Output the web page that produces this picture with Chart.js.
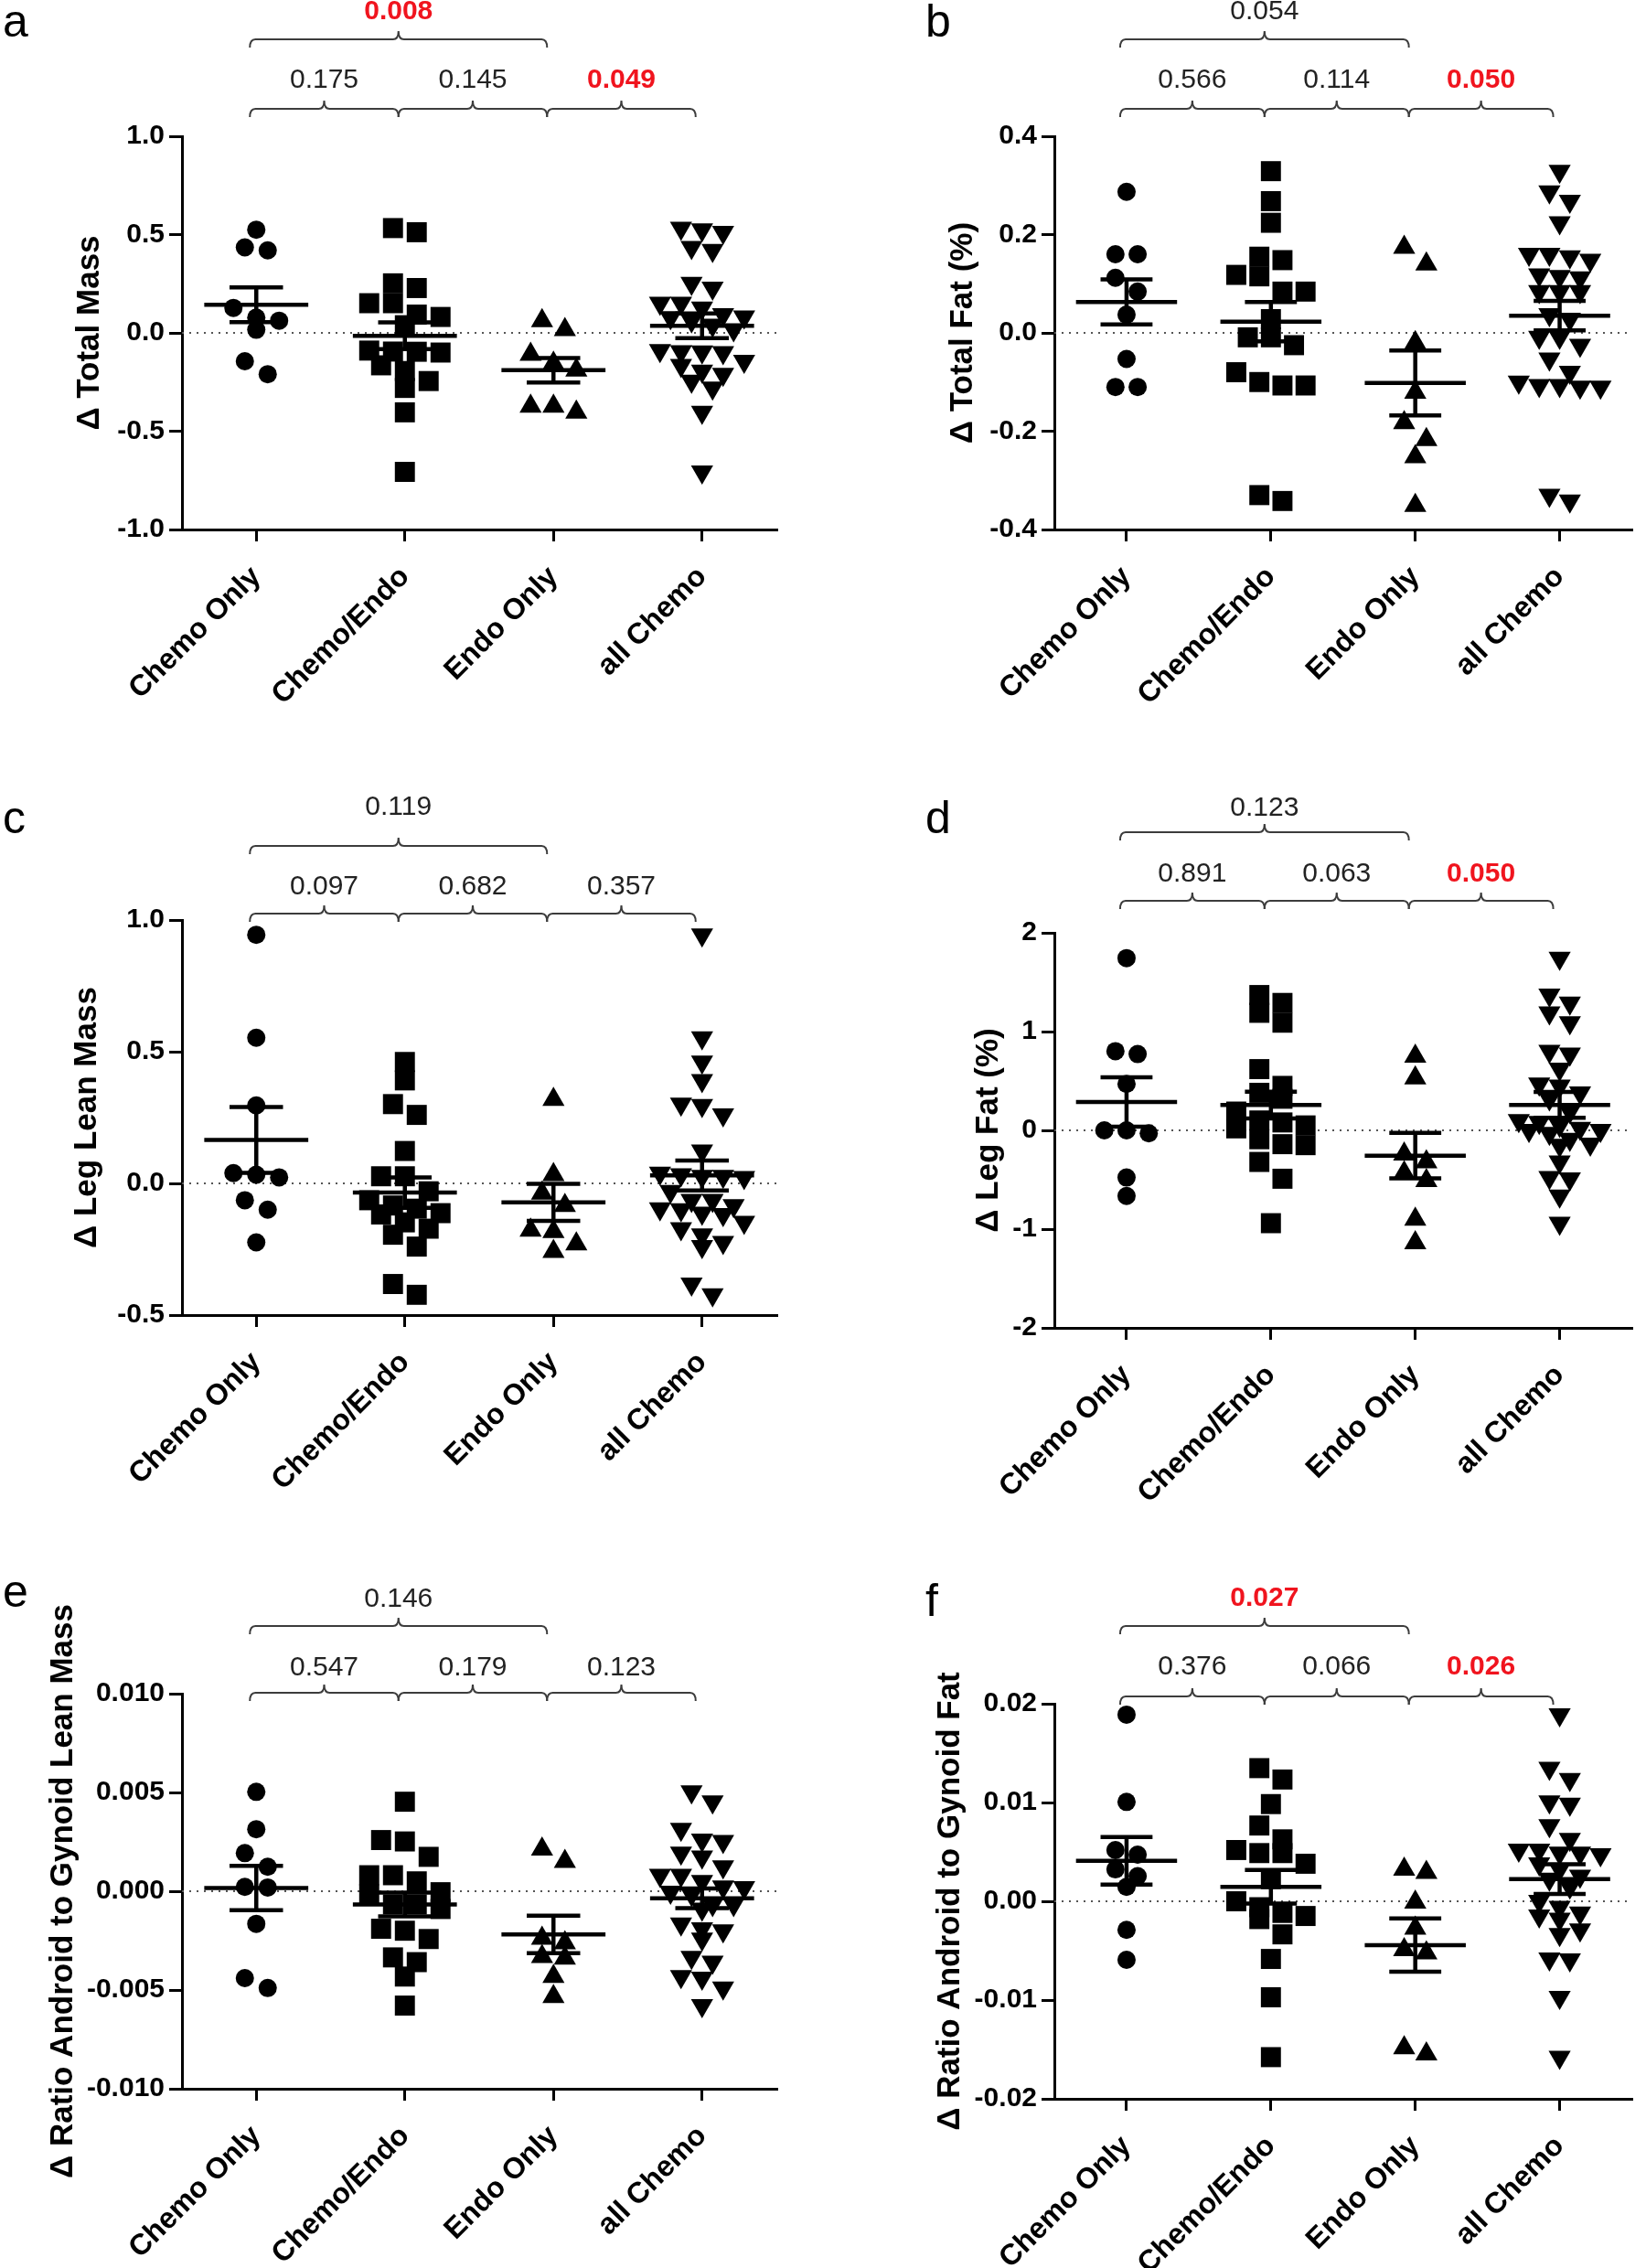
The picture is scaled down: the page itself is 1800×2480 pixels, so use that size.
<!DOCTYPE html>
<html lang="en">
<head>
<meta charset="UTF-8">
<title>Change in body composition by treatment group</title>
<script src="https://cdn.jsdelivr.net/npm/chart.js"></script>
<style>
  body { margin: 0; background: #fff; }
  #page { position: relative; width: 1800px; height: 2480px; background: #fff; }
  #page canvas { position: absolute; }
</style>
</head>
<body>
<div id="page">
  <canvas id="panelA" width="900" height="830" style="left:0;top:0"></canvas>
  <canvas id="panelB" width="900" height="830" style="left:900px;top:0"></canvas>
  <canvas id="panelC" width="900" height="830" style="left:0;top:830px"></canvas>
  <canvas id="panelD" width="900" height="830" style="left:900px;top:830px"></canvas>
  <canvas id="panelE" width="900" height="820" style="left:0;top:1660px"></canvas>
  <canvas id="panelF" width="900" height="820" style="left:900px;top:1660px"></canvas>
</div>

<script>
const groups = ['Chemo Only', 'Chemo/Endo', 'Endo Only', 'all Chemo'];

// a - total mass
const aChemoOnly = [0.525, 0.42, 0.435, 0.127, 0.062, 0.078, 0.016, -0.144, -0.21];
const aChemoEndo = [0.512, 0.533, 0.252, 0.228, 0.151, 0.151, 0.093, 0.081, 0.039, -0.10, -0.09, -0.096, -0.095, -0.165, -0.194, -0.28, -0.245, -0.404, -0.707];
const aEndoOnly = [0.016, 0.062, -0.109, -0.155, -0.19, -0.373, -0.404, -0.373];
const aAllChemo = [0.533, 0.525, 0.512, 0.435, 0.42, 0.252, 0.228, 0.151, 0.151, 0.127, 0.093, 0.081, 0.078, 0.062, 0.039, 0.016, -0.09, -0.095, -0.096, -0.10, -0.144, -0.165, -0.194, -0.21, -0.245, -0.28, -0.404, -0.707];
const aMeans = [0.143, -0.015, -0.19, 0.036];
const aSems = [0.088, 0.068, 0.062, 0.063];
const aTicks = [-1, -0.5, 0, 0.5, 1];
const aTickLabels = ['-1.0', '-0.5', '0.0', '0.5', '1.0'];
const aPInner = ['0.175', '0.145', '0.049'];
const aPOuter = '0.008';

// b - total fat
const bChemoOnly = [0.287, 0.16, 0.16, 0.112, 0.084, 0.037, -0.053, -0.11, -0.11];
const bChemoEndo = [0.329, 0.268, 0.224, 0.155, 0.148, 0.115, 0.118, 0.084, 0.084, 0.028, -0.009, -0.009, -0.025, -0.08, -0.107, -0.107, -0.10, -0.342, -0.33];
const bEndoOnly = [0.174, 0.14, -0.02, -0.121, -0.183, -0.217, -0.252, -0.351];
const bAllChemo = [0.329, 0.287, 0.268, 0.224, 0.16, 0.16, 0.155, 0.148, 0.118, 0.115, 0.112, 0.084, 0.084, 0.084, 0.037, 0.028, -0.009, -0.009, -0.025, -0.053, -0.08, -0.10, -0.107, -0.107, -0.11, -0.11, -0.33, -0.342];
const bMeans = [0.063, 0.023, -0.102, 0.035];
const bSems = [0.046, 0.040, 0.066, 0.030];
const bTicks = [-0.4, -0.2, 0, 0.2, 0.4];
const bTickLabels = ['-0.4', '-0.2', '0.0', '0.2', '0.4'];
const bPInner = ['0.566', '0.114', '0.050'];
const bPOuter = '0.054';

// c - leg lean mass
const cChemoOnly = [0.944, 0.553, 0.296, 0.039, 0.023, 0.033, -0.064, -0.10, -0.224];
const cChemoEndo = [0.461, 0.391, 0.301, 0.26, 0.123, 0.027, 0.027, -0.03, -0.064, -0.084, -0.096, -0.113, -0.118, -0.148, -0.172, -0.195, -0.24, -0.382, -0.423];
const cEndoOnly = [0.319, 0.033, -0.037, -0.084, -0.183, -0.178, -0.23, -0.259];
const cAllChemo = [0.944, 0.553, 0.461, 0.391, 0.301, 0.296, 0.26, 0.123, 0.039, 0.033, 0.027, 0.027, 0.023, -0.03, -0.064, -0.064, -0.084, -0.096, -0.10, -0.113, -0.118, -0.148, -0.172, -0.195, -0.224, -0.24, -0.382, -0.423];
const cMeans = [0.165, -0.035, -0.072, 0.03];
const cSems = [0.125, 0.058, 0.07, 0.057];
const cTicks = [-0.5, 0, 0.5, 1];
const cTickLabels = ['-0.5', '0.0', '0.5', '1.0'];
const cPInner = ['0.097', '0.682', '0.357'];
const cPOuter = '0.119';

// d - leg fat
const dChemoOnly = [1.744, 0.802, 0.772, 0.47, 0.0, -0.03, 0.0, -0.478, -0.664];
const dChemoEndo = [1.37, 1.29, 1.19, 1.09, 0.62, 0.45, 0.38, 0.32, 0.19, 0.10, 0.08, 0.05, 0.02, -0.09, -0.14, -0.15, -0.32, -0.49, -0.94];
const dEndoOnly = [0.75, 0.53, -0.24, -0.32, -0.43, -0.51, -0.90, -1.14];
const dAllChemo = [1.744, 1.37, 1.29, 1.19, 1.09, 0.802, 0.772, 0.62, 0.47, 0.45, 0.38, 0.32, 0.19, 0.10, 0.08, 0.05, 0.02, 0.0, 0.0, -0.03, -0.09, -0.14, -0.15, -0.32, -0.478, -0.49, -0.664, -0.94];
const dMeans = [0.287, 0.256, -0.256, 0.258];
const dSems = [0.25, 0.135, 0.23, 0.13];
const dTicks = [-2, -1, 0, 1, 2];
const dTickLabels = ['-2', '-1', '0', '1', '2'];
const dPInner = ['0.891', '0.063', '0.050'];
const dPOuter = '0.123';

// e - android/gynoid lean ratio
const eChemoOnly = [0.00503, 0.00314, 0.00193, 0.00124, 0.00019, 0.00022, -0.00165, -0.0044, -0.0049];
const eChemoEndo = [0.00453, 0.00252, 0.00259, 0.00174, 0.00081, 0.00081, 0.0005, -0.00016, -0.00005, -0.00067, -0.0009, -0.00067, -0.0019, -0.002, -0.00242, -0.00359, -0.00335, -0.00432, -0.00579];
const eEndoOnly = [0.00213, 0.00151, -0.00238, -0.00261, -0.00331, -0.00339, -0.00432, -0.00533];
const eAllChemo = [0.00503, 0.00453, 0.00314, 0.00259, 0.00252, 0.00193, 0.00174, 0.00124, 0.00081, 0.00081, 0.0005, 0.00022, 0.00019, -0.00005, -0.00016, -0.00067, -0.00067, -0.0009, -0.00165, -0.0019, -0.002, -0.00242, -0.00335, -0.00359, -0.00432, -0.0044, -0.0049, -0.00579];
const eMeans = [0.00016, -0.00067, -0.00219, -0.00036];
const eSems = [0.00112, 0.0006, 0.00095, 0.0005];
const eTicks = [-0.01, -0.005, 0, 0.005, 0.01];
const eTickLabels = ['-0.010', '-0.005', '0.000', '0.005', '0.010'];
const ePInner = ['0.547', '0.179', '0.123'];
const ePOuter = '0.146';

// f - android/gynoid fat ratio
const fChemoOnly = [0.0189, 0.01006, 0.00519, 0.00472, 0.00323, 0.00255, 0.00146, -0.00289, -0.00593];
const fChemoEndo = [0.01348, 0.01233, 0.00984, 0.00767, 0.00627, 0.00519, 0.00488, 0.00488, 0.0038, 0.00224, 0.0, -0.0006, -0.00118, -0.0018, -0.00149, -0.00335, -0.00584, -0.00972, -0.01578];
const fEndoOnly = [0.00323, 0.00292, -0.0001, -0.00273, -0.0049, -0.00522, -0.01547, -0.01484];
const fAllChemo = [0.0189, 0.01348, 0.01233, 0.01006, 0.00984, 0.00767, 0.00627, 0.00519, 0.00519, 0.00488, 0.00488, 0.00472, 0.0038, 0.00323, 0.00255, 0.00224, 0.00146, 0.0, -0.0006, -0.00118, -0.00149, -0.0018, -0.00289, -0.00335, -0.00584, -0.00593, -0.00972, -0.01578];
const fMeans = [0.0041, 0.00146, -0.00444, 0.00224];
const fSems = [0.0024, 0.0017, 0.0027, 0.0015];
const fTicks = [-0.02, -0.01, 0, 0.01, 0.02];
const fTickLabels = ['-0.02', '-0.01', '0.00', '0.01', '0.02'];
const fPInner = ['0.376', '0.066', '0.026'];
const fPOuter = '0.027';

Chart.defaults.font.family = '"Liberation Sans", Arial, sans-serif';
Chart.defaults.color = '#000';

const PLOT_H = 432, CAT_W = 162.5;

// circle, square, triangle, inverted triangle (Prism style)
const markers = [
  { style: 'circle', radius: 10, rotation: 0, row: 19, step: 25, max: 4 },
  { style: 'rect', radius: 15.5, rotation: 0, row: 19, step: 26, max: 4 },
  { style: 'triangle', radius: 14, rotation: 0, row: 20, step: 25, max: 4 },
  { style: 'triangle', radius: 14, rotation: 180, row: 16, step: 23, max: 5 }
];

// spread points of one group sideways when they would overlap
function swarm(values, idx, span, mk) {
  const dataPerPx = span / PLOT_H;
  const sorted = values.slice().sort((p, q) => q - p);
  const rows = [];
  sorted.forEach(v => {
    const row = rows[rows.length - 1];
    if (row && row.length < mk.max && (row[0] - v) / dataPerPx < mk.row) row.push(v);
    else rows.push([v]);
  });
  const pts = [];
  rows.forEach(row => {
    row.forEach((v, i) => {
      pts.push({ x: idx + (i - (row.length - 1) / 2) * mk.step / CAT_W, y: v });
    });
  });
  return pts;
}

function brace(ctx, x1, x2, y) {
  const xm = (x1 + x2) / 2, r = 6, drop = 9, notch = 9;
  ctx.beginPath();
  ctx.moveTo(x1, y + drop);
  ctx.quadraticCurveTo(x1, y, x1 + r, y);
  ctx.lineTo(xm - r, y);
  ctx.quadraticCurveTo(xm, y, xm, y - notch);
  ctx.quadraticCurveTo(xm, y, xm + r, y);
  ctx.lineTo(x2 - r, y);
  ctx.quadraticCurveTo(x2, y, x2, y + drop);
  ctx.stroke();
}

function pLabel(ctx, txt, x, y) {
  const sig = parseFloat(txt) <= 0.05;
  ctx.font = (sig ? 'bold ' : '') + '30px "Liberation Sans", Arial, sans-serif';
  ctx.fillStyle = sig ? '#f0141e' : '#222';
  ctx.textAlign = 'center';
  ctx.textBaseline = 'middle';
  ctx.fillText(txt, x, y);
}

function makeAnnotate(p) {
  return {
    id: 'annotate',
    beforeDatasetsDraw(chart) {
      const { ctx, chartArea: ca, scales: { y } } = chart;
      const y0 = y.getPixelForValue(0);
      ctx.save();
      ctx.strokeStyle = '#555';
      ctx.lineWidth = 2;
      ctx.setLineDash([2, 6]);
      ctx.beginPath();
      ctx.moveTo(ca.left, y0);
      ctx.lineTo(ca.right, y0);
      ctx.stroke();
      ctx.restore();
    },
    afterDatasetsDraw(chart) {
      const { ctx, scales: { x, y } } = chart;
      ctx.save();
      ctx.strokeStyle = '#000';
      ctx.lineWidth = 4.5;
      p.means.forEach((m, i) => {
        const s = p.sems[i];
        const yc = y.getPixelForValue(m);
        const yt = y.getPixelForValue(m + s);
        const yb = y.getPixelForValue(m - s);
        const xc = x.getPixelForValue(i);
        ctx.beginPath();
        ctx.moveTo(x.getPixelForValue(i - 0.35), yc);
        ctx.lineTo(x.getPixelForValue(i + 0.35), yc);
        ctx.moveTo(x.getPixelForValue(i - 0.18), yt);
        ctx.lineTo(x.getPixelForValue(i + 0.18), yt);
        ctx.moveTo(x.getPixelForValue(i - 0.18), yb);
        ctx.lineTo(x.getPixelForValue(i + 0.18), yb);
        ctx.moveTo(xc, yt);
        ctx.lineTo(xc, yb);
        ctx.stroke();
      });
      ctx.restore();
    },
    afterDraw(chart) {
      const { ctx, chartArea: ca, scales: { x } } = chart;
      const [bIn, lIn, bOut, lOut] = p.brace;
      ctx.save();
      ctx.strokeStyle = '#3c3c3c';
      ctx.lineWidth = 2;
      for (let i = 0; i < 3; i++) {
        const x1 = x.getPixelForValue(i) - 7, x2 = x.getPixelForValue(i + 1) - 7;
        brace(ctx, x1, x2, ca.top - bIn);
        pLabel(ctx, p.pInner[i], (x1 + x2) / 2, ca.top - lIn);
      }
      const o1 = x.getPixelForValue(0) - 7, o2 = x.getPixelForValue(2) - 7;
      brace(ctx, o1, o2, ca.top - bOut);
      pLabel(ctx, p.pOuter, (o1 + o2) / 2, ca.top - lOut);

      ctx.font = '50px "Liberation Sans", Arial, sans-serif';
      ctx.fillStyle = '#000';
      ctx.textAlign = 'left';
      ctx.textBaseline = 'alphabetic';
      ctx.fillText(p.letter, p.letterAt[0], p.letterAt[1]);
      ctx.restore();
    }
  };
}

const panels = [
  { id: 'panelA', letter: 'a', title: 'Δ Total Mass', series: [aChemoOnly, aChemoEndo, aEndoOnly, aAllChemo],
    means: aMeans, sems: aSems, ticks: aTicks, tickLabels: aTickLabels, pInner: aPInner, pOuter: aPOuter,
    axisX: 199, top: 149, bottom: 579, right: 849, titleOff: 101, brace: [30, 61, 106, 136], letterAt: [3, 40] },
  { id: 'panelB', letter: 'b', title: 'Δ Total Fat (%)', series: [bChemoOnly, bChemoEndo, bEndoOnly, bAllChemo],
    means: bMeans, sems: bSems, ticks: bTicks, tickLabels: bTickLabels, pInner: bPInner, pOuter: bPOuter,
    axisX: 253, top: 149, bottom: 579, right: 900, titleOff: 100, brace: [30, 61, 106, 136], letterAt: [112, 40] },
  { id: 'panelC', letter: 'c', title: 'Δ Leg Lean Mass', series: [cChemoOnly, cChemoEndo, cEndoOnly, cAllChemo],
    means: cMeans, sems: cSems, ticks: cTicks, tickLabels: cTickLabels, pInner: cPInner, pOuter: cPOuter,
    axisX: 199, top: 176, bottom: 608, right: 849, titleOff: 104, brace: [7, 36, 81, 123], letterAt: [3, 81] },
  { id: 'panelD', letter: 'd', title: 'Δ Leg Fat (%)', series: [dChemoOnly, dChemoEndo, dEndoOnly, dAllChemo],
    means: dMeans, sems: dSems, ticks: dTicks, tickLabels: dTickLabels, pInner: dPInner, pOuter: dPOuter,
    axisX: 253, top: 190, bottom: 622, right: 900, titleOff: 72, brace: [35, 64, 110, 136], letterAt: [112, 81] },
  { id: 'panelE', letter: 'e', title: 'Δ Ratio Android to Gynoid Lean Mass', series: [eChemoOnly, eChemoEndo, eEndoOnly, eAllChemo],
    means: eMeans, sems: eSems, ticks: eTicks, tickLabels: eTickLabels, pInner: ePInner, pOuter: ePOuter,
    axisX: 199, top: 192, bottom: 624, right: 849, titleOff: 130, brace: [1, 28, 74, 103], letterAt: [3, 97] },
  { id: 'panelF', letter: 'f', title: 'Δ Ratio Android to Gynoid Fat', series: [fChemoOnly, fChemoEndo, fEndoOnly, fAllChemo],
    means: fMeans, sems: fSems, ticks: fTicks, tickLabels: fTickLabels, pInner: fPInner, pOuter: fPOuter,
    axisX: 253, top: 203, bottom: 635, right: 900, titleOff: 114, brace: [8, 40, 85, 115], letterAt: [112, 107] }
];

panels.forEach(p => {
  const canvas = document.getElementById(p.id);
  const yMin = p.ticks[0], yMax = p.ticks[p.ticks.length - 1];
  const span = yMax - yMin;
  const axisLine = { display: true, color: '#000', width: 3 };

  new Chart(canvas, {
    type: 'scatter',
    data: {
      datasets: p.series.map((vals, i) => ({
        label: groups[i],
        data: swarm(vals, i, span, markers[i]),
        pointStyle: markers[i].style,
        pointRadius: markers[i].radius,
        pointHoverRadius: markers[i].radius,
        pointRotation: markers[i].rotation,
        pointBackgroundColor: '#000',
        pointBorderColor: '#000',
        pointBorderWidth: 0,
        clip: false
      }))
    },
    options: {
      responsive: false,
      animation: false,
      events: [],
      layout: { padding: { left: p.axisX - p.titleOff - 25, top: p.top, right: 900 - p.right, bottom: 0 } },
      plugins: { legend: { display: false }, tooltip: { enabled: false } },
      scales: {
        x: {
          type: 'linear',
          min: -0.5,
          max: 3.5,
          afterBuildTicks: s => { s.ticks = groups.map((g, i) => ({ value: i })); },
          afterFit: s => { s.height = canvas.height - p.bottom; },
          ticks: {
            autoSkip: false, minRotation: 45, maxRotation: 45, padding: 20,
            font: { size: 32, weight: 'bold' }, color: '#000',
            callback: (v, i) => groups[i]
          },
          grid: { drawOnChartArea: false, drawTicks: true, tickLength: 13, lineWidth: 3, tickWidth: 3, tickColor: '#000' },
          border: axisLine
        },
        y: {
          min: yMin,
          max: yMax,
          afterBuildTicks: s => { s.ticks = p.ticks.map(v => ({ value: v })); },
          afterFit: s => { s.width = p.titleOff + 25; },
          ticks: {
            padding: 5, font: { size: 30, weight: 'bold' }, color: '#000',
            callback: (v, i) => p.tickLabels[i]
          },
          grid: { drawOnChartArea: false, drawTicks: true, tickLength: 14, lineWidth: 3, tickWidth: 3, tickColor: '#000' },
          border: axisLine,
          title: { display: true, text: p.title, color: '#000', font: { size: 35, weight: 'bold' }, padding: { top: 4, bottom: 4 } }
        }
      }
    },
    plugins: [makeAnnotate(p)]
  });
});
</script>
</body>
</html>
